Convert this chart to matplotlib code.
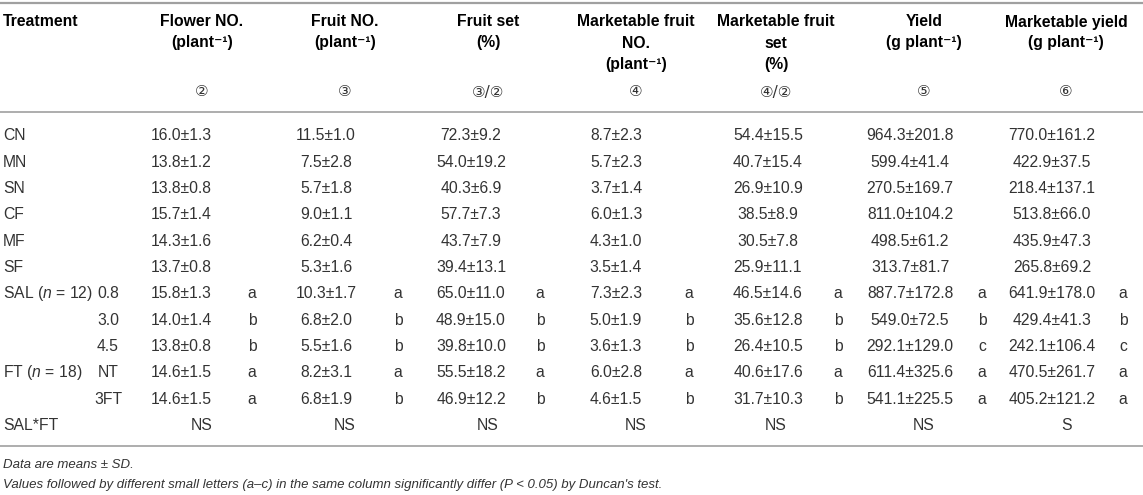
import numpy as np
import matplotlib.pyplot as plt

plt.rcParams['font.family'] = ['Liberation Sans', 'DejaVu Sans']
plt.rcParams['mathtext.fontset'] = 'custom'
plt.rcParams['mathtext.rm'] = 'Liberation Sans'
plt.rcParams['mathtext.it'] = 'Liberation Sans:italic'

# ____________________________________________________________
# table data

row_labels = ['CN', 'MN', 'SN', 'CF', 'MF', 'SF',
              r'SAL ($\mathit{n}$ = 12)', '', '',
              r'FT ($\mathit{n}$ = 18)', '', 'SAL*FT']
sub_labels = ['', '', '', '', '', '', '0.8', '3.0', '4.5', 'NT', '3FT', '']

flower_mean = [16.0, 13.8, 13.8, 15.7, 14.3, 13.7, 15.8, 14.0, 13.8, 14.6, 14.6]
flower_sd = [1.3, 1.2, 0.8, 1.4, 1.6, 0.8, 1.3, 1.4, 0.8, 1.5, 1.5]
flower_let = ['a', 'b', 'b', 'a', 'a']

fruit_mean = [11.5, 7.5, 5.7, 9.0, 6.2, 5.3, 10.3, 6.8, 5.5, 8.2, 6.8]
fruit_sd = [1.0, 2.8, 1.8, 1.1, 0.4, 1.6, 1.7, 2.0, 1.6, 3.1, 1.9]
fruit_let = ['a', 'b', 'b', 'a', 'b']

set_mean = [72.3, 54.0, 40.3, 57.7, 43.7, 39.4, 65.0, 48.9, 39.8, 55.5, 46.9]
set_sd = [9.2, 19.2, 6.9, 7.3, 7.9, 13.1, 11.0, 15.0, 10.0, 18.2, 12.2]
set_let = ['a', 'b', 'b', 'a', 'b']

mfruit_mean = [8.7, 5.7, 3.7, 6.0, 4.3, 3.5, 7.3, 5.0, 3.6, 6.0, 4.6]
mfruit_sd = [2.3, 2.3, 1.4, 1.3, 1.0, 1.4, 2.3, 1.9, 1.3, 2.8, 1.5]
mfruit_let = ['a', 'b', 'b', 'a', 'b']

mset_mean = [54.4, 40.7, 26.9, 38.5, 30.5, 25.9, 46.5, 35.6, 26.4, 40.6, 31.7]
mset_sd = [15.5, 15.4, 10.9, 8.9, 7.8, 11.1, 14.6, 12.8, 10.5, 17.6, 10.3]
mset_let = ['a', 'b', 'b', 'a', 'b']

yield_mean = [964.3, 599.4, 270.5, 811.0, 498.5, 313.7, 887.7, 549.0, 292.1, 611.4, 541.1]
yield_sd = [201.8, 41.4, 169.7, 104.2, 61.2, 81.7, 172.8, 72.5, 129.0, 325.6, 225.5]
yield_let = ['a', 'b', 'c', 'a', 'a']

myield_mean = [770.0, 422.9, 218.4, 513.8, 435.9, 265.8, 641.9, 429.4, 242.1, 470.5, 405.2]
myield_sd = [161.2, 37.5, 137.1, 66.0, 47.3, 69.2, 178.0, 41.3, 106.4, 261.7, 121.2]
myield_let = ['a', 'b', 'c', 'a', 'a']

interaction = ['NS', 'NS', 'NS', 'NS', 'NS', 'NS', 'S']

headers = [['Flower NO.', '(plant⁻¹)'],
           ['Fruit NO.', '(plant⁻¹)'],
           ['Fruit set', '(%)'],
           ['Marketable fruit', 'NO.', '(plant⁻¹)'],
           ['Marketable fruit', 'set', '(%)'],
           ['Yield', '(g plant⁻¹)'],
           ['Marketable yield', '(g plant⁻¹)']]
formulas = ['②', '③', '③/②', '④', '④/②', '⑤', '⑥']

columns = [(flower_mean, flower_sd, flower_let),
           (fruit_mean, fruit_sd, fruit_let),
           (set_mean, set_sd, set_let),
           (mfruit_mean, mfruit_sd, mfruit_let),
           (mset_mean, mset_sd, mset_let),
           (yield_mean, yield_sd, yield_let),
           (myield_mean, myield_sd, myield_let)]

# ____________________________________________________________
# layout (pixel positions)

val_x = [181, 326, 471, 616, 768, 910, 1052]
let_x = [252, 398, 540, 689, 838, 982, 1123]
head_x = [202, 345, 488, 636, 776, 924, 1066]
row_y = 136 + 26.3 * np.arange(12)
head_y = [22, 43, 64]

fs = 11.3
txt = '#333333'

fig = plt.figure(figsize=(11.43, 4.95), dpi=100)
ax = fig.add_axes([0, 0, 1, 1])
ax.set_xlim(0, 1143)
ax.set_ylim(495, 0)
ax.axis('off')

rule = '#a0a0a0'
ax.plot([0, 1143], [3, 3], color=rule, lw=1.6)
ax.plot([0, 1143], [112, 112], color=rule, lw=1.2)
ax.plot([0, 1143], [446, 446], color=rule, lw=1.2)

ax.text(3, head_y[0], 'Treatment', fontsize=fs, fontweight='bold', va='center', ha='left')
for hx, lines, f in zip(head_x, headers, formulas):
    for k, line in enumerate(lines):
        ax.text(hx, head_y[k], line, fontsize=fs, fontweight='bold', va='center', ha='center')
    ax.text(hx, 92, f, fontsize=11, va='center', ha='center', color=txt,
            family=['DejaVu Sans'])

for i, y in enumerate(row_y):
    ax.text(3, y, row_labels[i], fontsize=fs, va='center', ha='left', color=txt)
    ax.text(108, y, sub_labels[i], fontsize=fs, va='center', ha='center', color=txt)

for c, (m, s, let) in enumerate(columns):
    for i in range(len(m)):
        ax.text(val_x[c], row_y[i], f'{m[i]:.1f}±{s[i]:.1f}', fontsize=fs,
                va='center', ha='center', color=txt)
    for j, l in enumerate(let):
        ax.text(let_x[c], row_y[6 + j], l, fontsize=fs, va='center', ha='center', color=txt)
    ax.text(head_x[c], row_y[11], interaction[c], fontsize=fs, va='center', ha='center', color=txt)

ax.text(3, 465, 'Data are means ± SD.', fontsize=9.5, style='italic',
        va='center', ha='left', color=txt)
ax.text(3, 485, "Values followed by different small letters (a–c) in the same column "
        "significantly differ (P < 0.05) by Duncan's test.", fontsize=9.5, style='italic',
        va='center', ha='left', color=txt)

fig.savefig('out.png', dpi=100)
